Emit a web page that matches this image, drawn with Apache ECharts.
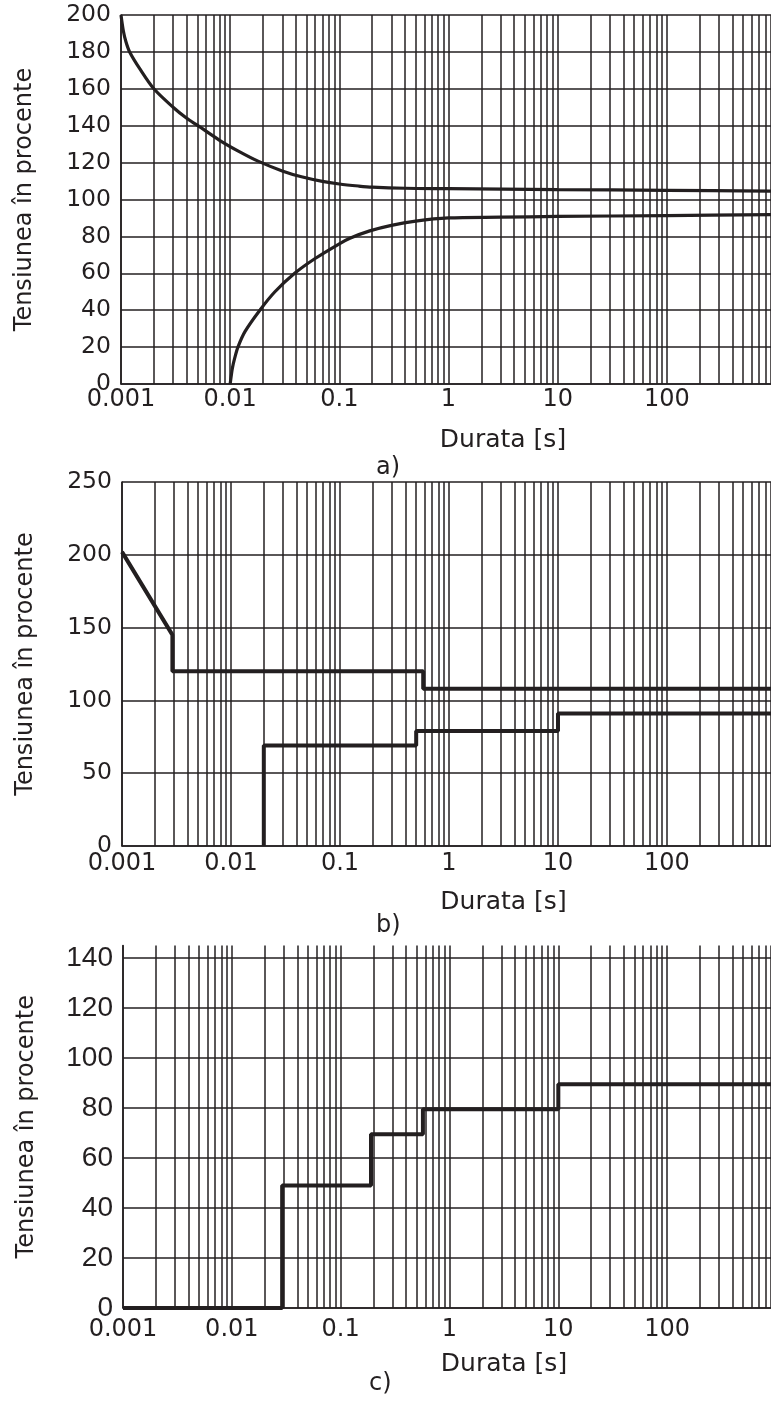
<!DOCTYPE html>
<html>
<head>
<meta charset="utf-8">
<script src="https://cdn.jsdelivr.net/npm/echarts@6/dist/echarts.min.js"></script>
<style>
  html, body { margin: 0; padding: 0; background: #fff; }
  #chart { width: 771px; height: 1411px; }
</style>
</head>
<body>
<div id="chart"></div>
<script>
// log grid: decades + the 1..9 lines inside each one
const decades = [0.001, 0.01, 0.1, 1, 10, 100];
const gridSteps = [1, 2, 3, 4, 5, 6, 7, 8, 9];
const xTickLabels = ['0.001', '0.01', '0.1', '1', '10', '100'];
const cYTicks = [0, 20, 40, 60, 80, 100, 120, 140];

// a) upper and lower limit curves
const aUpperT = [0.001, 0.00105, 0.00111, 0.0012, 0.0015, 0.002, 0.003, 0.004, 0.00507, 0.008, 0.012, 0.018, 0.03, 0.045, 0.07, 0.1, 0.15, 0.2, 0.4, 1, 10, 100, 900];
const aUpperV = [200, 191.5, 185.5, 180, 170.5, 160, 150, 144, 140, 132.1, 126.1, 120.8, 115.5, 112.3, 109.8, 108.4, 107.3, 106.7, 106.1, 105.9, 105.4, 104.95, 104.5];
const aLowerT = [0.01, 0.01023, 0.01047, 0.011, 0.01178, 0.0137, 0.0187, 0.0257, 0.039, 0.06, 0.1, 0.125, 0.19, 0.3, 0.5, 1, 3, 10, 100, 900];
const aLowerV = [0, 4.5, 8.5, 14, 20, 28.5, 40, 50, 60, 68, 76, 79, 83, 86, 88.3, 90, 90.4, 90.8, 91.3, 91.8];

// b) stepped limits
const bUpperT = [0.001, 0.0029, 0.0029, 0.58, 0.58, 900];
const bUpperV = [202, 145, 120, 120, 108, 108];
const bLowerT = [0.02, 0.02, 0.5, 0.5, 10, 10, 900];
const bLowerV = [0, 69, 69, 79, 79, 91, 91];

// c) single stepped limit
const cT = [0.001, 0.029, 0.029, 0.19, 0.19, 0.57, 0.57, 10, 10, 900];
const cV = [0, 0, 49, 49, 69.5, 69.5, 79.5, 79.5, 89.5, 89.5];

const ink = '#231f20';
const font = 'DejaVu Sans';

const pairs = (t, v) => t.map((x, i) => [x, v[i]]);
const vLines = decades.flatMap(d => gridSteps.map(s => ({ xAxis: +(d * s).toPrecision(3) })));

const xLabel = (v) => {
  const i = decades.findIndex(d => Math.abs(Math.log10(v / d)) < 1e-6);
  return i >= 0 ? xTickLabels[i] : '';
};

function makeX(gridIndex, margin) {
  return {
    type: 'log', logBase: 10, gridIndex, min: 0.001, max: 900,
    name: 'Durata [s]', nameLocation: 'middle', nameGap: 44,
    nameTextStyle: { fontFamily: font, fontSize: 25, color: ink, padding: [0, 0, 0, 114] },
    axisLine: { show: true, onZero: false, lineStyle: { color: ink, width: 1.6 } },
    axisTick: { show: false },
    splitLine: { show: false },
    axisLabel: { margin, fontFamily: font, fontSize: 24, color: ink, showMaxLabel: false, formatter: xLabel }
  };
}

function makeY(gridIndex, max, interval, split, labelFont, labelSize) {
  return {
    type: 'value', gridIndex, min: 0, max, interval,
    name: 'Tensiunea în procente', nameLocation: 'middle', nameGap: 84,
    nameTextStyle: { fontFamily: font, fontSize: 24, color: ink },
    axisLine: { show: true, onZero: false, lineStyle: { color: ink, width: 1.6 } },
    axisTick: { show: false },
    splitLine: { show: split, lineStyle: { color: ink, width: 1.6 } },
    axisLabel: {
      margin: 10, fontFamily: labelFont, fontSize: labelSize, color: ink,
      formatter: (v) => (v > 140 && max === 145 ? '' : String(v))
    }
  };
}

const gridLineStyle = { type: 'solid', color: ink, width: 1.5 };

function gridSeries(idx, extra) {
  return {
    type: 'line', xAxisIndex: idx, yAxisIndex: idx, data: [], z: 1,
    markLine: {
      silent: true, symbol: ['none', 'none'], animation: false, precision: 10,
      label: { show: false }, lineStyle: gridLineStyle,
      data: vLines.concat(extra || [])
    }
  };
}

function curve(idx, t, v, width, smooth) {
  return {
    type: 'line', xAxisIndex: idx, yAxisIndex: idx, data: pairs(t, v),
    showSymbol: false, smooth: smooth ? 0.3 : false,
    clip: false, z: 3, animation: false,
    lineStyle: { color: ink, width }
  };
}

const capStyle = { fontFamily: font, fontSize: 24, fontWeight: 'normal', color: ink };

const chart = echarts.init(document.getElementById('chart'));
chart.setOption({
  backgroundColor: '#fff',
  animation: false,
  title: [
    { text: 'a)', left: 376, top: 456, padding: 0, textStyle: capStyle },
    { text: 'b)', left: 376, top: 914, padding: 0, textStyle: capStyle },
    { text: 'c)', left: 369, top: 1372, padding: 0, textStyle: capStyle }
  ],
  grid: [
    { left: 121, top: 15, right: 0, height: 369 },
    { left: 122, top: 482, right: 0, height: 364 },
    { left: 123, top: 945.5, right: 0, height: 362.5 }
  ],
  xAxis: [makeX(0, 4), makeX(1, 6), makeX(2, 10)],
  yAxis: [
    makeY(0, 200, 20, true, font, 23.5),
    makeY(1, 250, 50, true, font, 23.5),
    makeY(2, 145, 20, false, 'Liberation Sans', 28)
  ],
  series: [
    gridSeries(0),
    curve(0, aUpperT, aUpperV, 3.2, true),
    curve(0, aLowerT, aLowerV, 3.2, true),
    gridSeries(1),
    curve(1, bUpperT, bUpperV, 4, false),
    curve(1, bLowerT, bLowerV, 4, false),
    gridSeries(2, cYTicks.map(v => ({ yAxis: v }))),
    curve(2, cT, cV, 4, false)
  ]
});
</script>
</body>
</html>
